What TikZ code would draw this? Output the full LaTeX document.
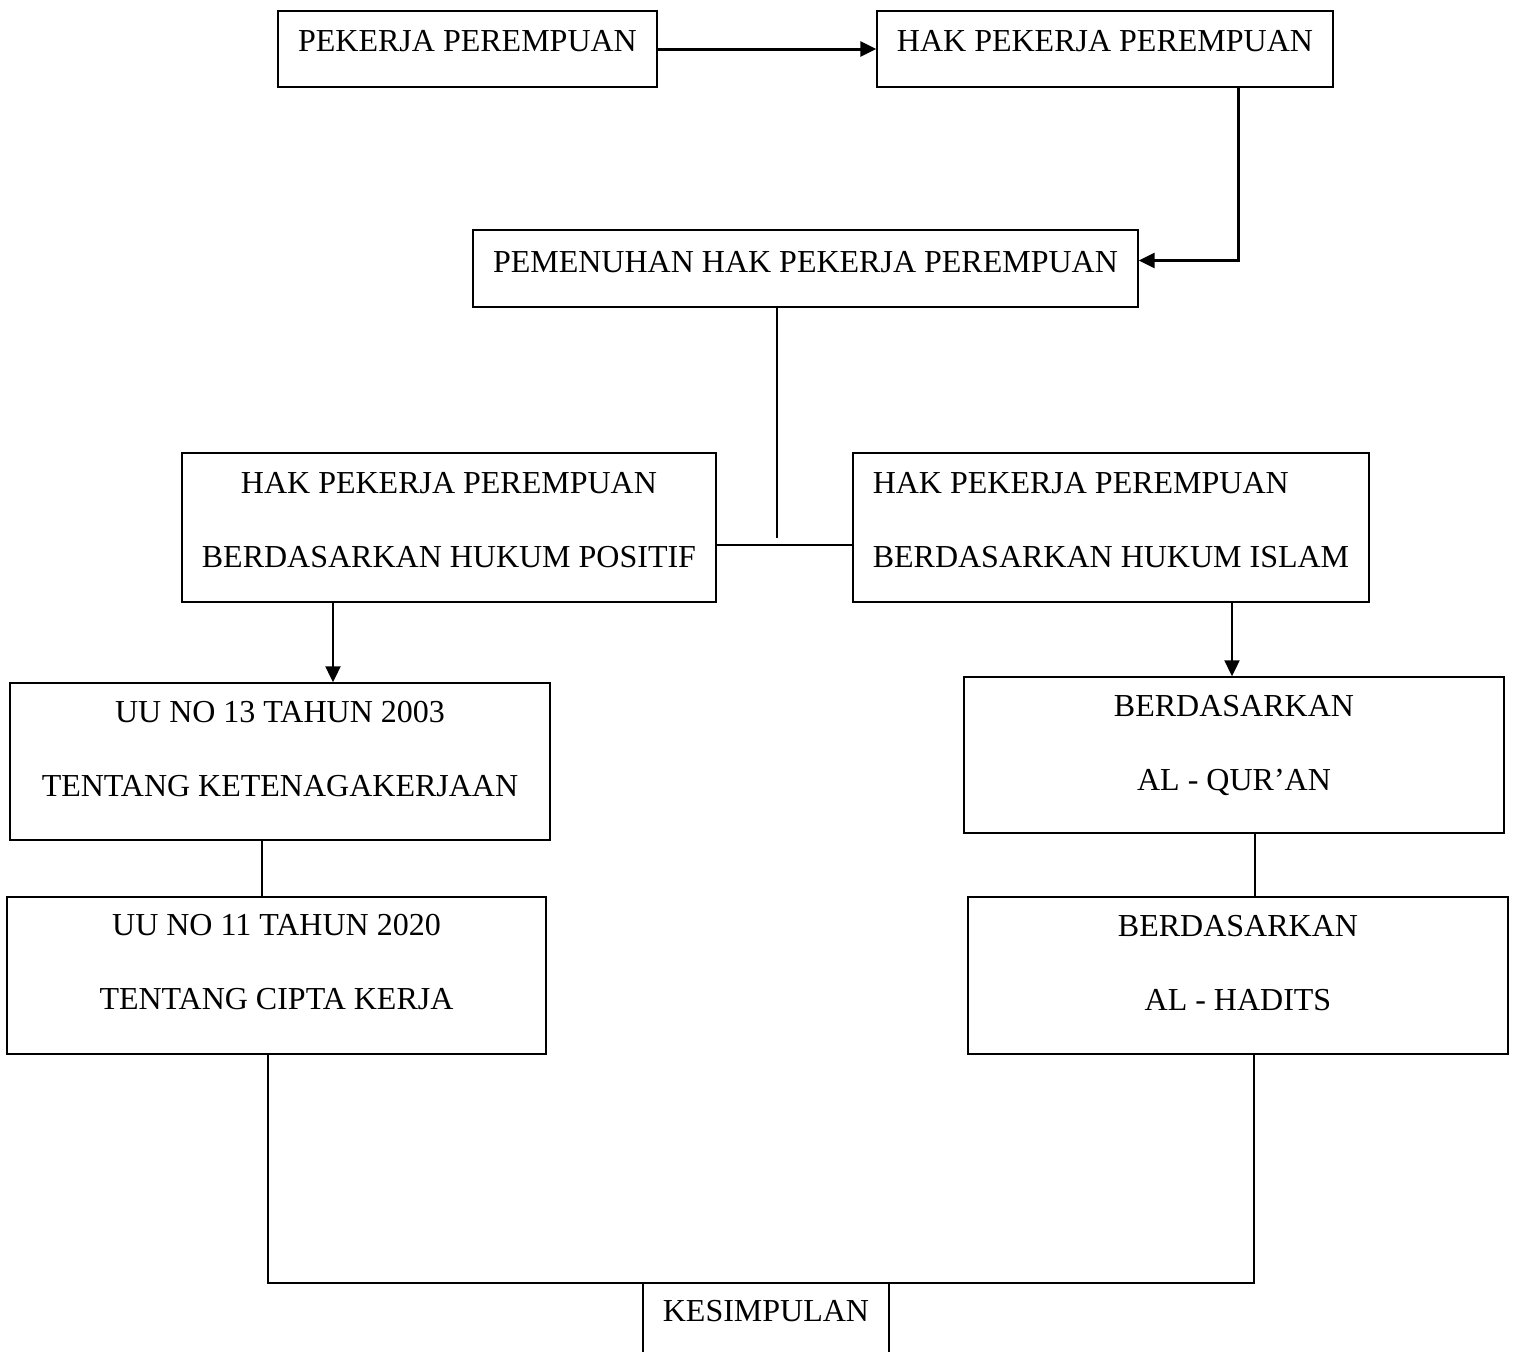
\documentclass[tikz,border=0pt]{standalone}
\usepackage{fontspec}
\setmainfont{Liberation Serif}
\usetikzlibrary{arrows.meta}

\begin{document}
\begin{tikzpicture}[
    x=0.5pt, y=-0.5pt,
    every node/.style={font=\fontsize{16}{37}\selectfont},
    box/.style={draw, line width=0.7pt, inner sep=0pt, align=center},
    lift/.style={execute at end node={\rule[-#1]{0pt}{0pt}}},
    line/.style={line width=0.7pt},
    arrow/.style={-{Triangle[length=8pt, width=7.5pt]}, line width=1pt},
    bigarrow/.style={arrow, line width=1.5pt}
]
    \useasboundingbox (0,0) rectangle (1515,1351);
    \clip (0,0) rectangle (1515,1351);

    \node[box, minimum width=189.5pt, minimum height=38pt, lift=8.5pt] (pekerja)
        at (467.5,49) {PEKERJA PEREMPUAN};
    \node[box, minimum width=228pt, minimum height=38pt, lift=8.5pt] (hak)
        at (1105,49) {HAK PEKERJA PEREMPUAN};
    \node[box, minimum width=332.5pt, minimum height=38.5pt, lift=7pt] (pemenuhan)
        at (805.5,268.5) {PEMENUHAN HAK PEKERJA PEREMPUAN};
    \node[box, minimum width=267pt, minimum height=74.5pt, lift=7.5pt] (positif)
        at (449,527.5) {HAK PEKERJA PEREMPUAN\\BERDASARKAN HUKUM POSITIF};
    \node[box, align=left, minimum width=258pt, minimum height=74.5pt, lift=7.5pt] (islam)
        at (1111,527.5) {HAK PEKERJA PEREMPUAN\\BERDASARKAN HUKUM ISLAM};
    \node[box, minimum width=270pt, minimum height=78.5pt, lift=12.5pt] (uu13)
        at (280,761.5) {UU NO 13 TAHUN 2003\\TENTANG KETENAGAKERJAAN};
    \node[box, minimum width=269.5pt, minimum height=78.5pt, lift=13.5pt] (uu11)
        at (276.5,975.5) {UU NO 11 TAHUN 2020\\TENTANG CIPTA KERJA};
    \node[box, minimum width=270pt, minimum height=78pt, lift=12pt] (quran)
        at (1234,755) {BERDASARKAN\\AL - QUR’AN};
    \node[box, minimum width=270pt, minimum height=78.5pt, lift=13pt] (hadits)
        at (1238,975.5) {BERDASARKAN\\AL - HADITS};
    \node[box, minimum width=123pt, minimum height=50pt, lift=22pt] (kesimpulan)
        at (766,1333) {KESIMPULAN};

    \coordinate (joint) at (777,538);
    \coordinate (lfoot) at (268,1283);
    \coordinate (rfoot) at (1254,1283);

    \draw[bigarrow] (pekerja) -- (hak);
    \draw[bigarrow] ([xshift=-47.5pt]hak.south east) |- ([yshift=4pt]pemenuhan.east);
    \draw[line] ([xshift=-14.25pt]pemenuhan.south) -- (joint);
    \draw[line] ([yshift=-8.75pt]positif.east) -- ([yshift=-8.75pt]islam.west);
    \draw[arrow] ([xshift=-58pt]positif.south) -- ([xshift=-58pt]positif.south |- uu13.north);
    \draw[arrow] ([xshift=60.5pt]islam.south) -- ([xshift=60.5pt]islam.south |- quran.north);
    \draw[line] ([xshift=-9pt]uu13.south) -- ([xshift=-9pt]uu13.south |- uu11.north);
    \draw[line] ([xshift=10.5pt]quran.south) -- ([xshift=10.5pt]quran.south |- hadits.north);
    \draw[line] ([xshift=-4.25pt]uu11.south) -- (lfoot) -- (rfoot) -- ([xshift=8pt]hadits.south);
\end{tikzpicture}
\end{document}
